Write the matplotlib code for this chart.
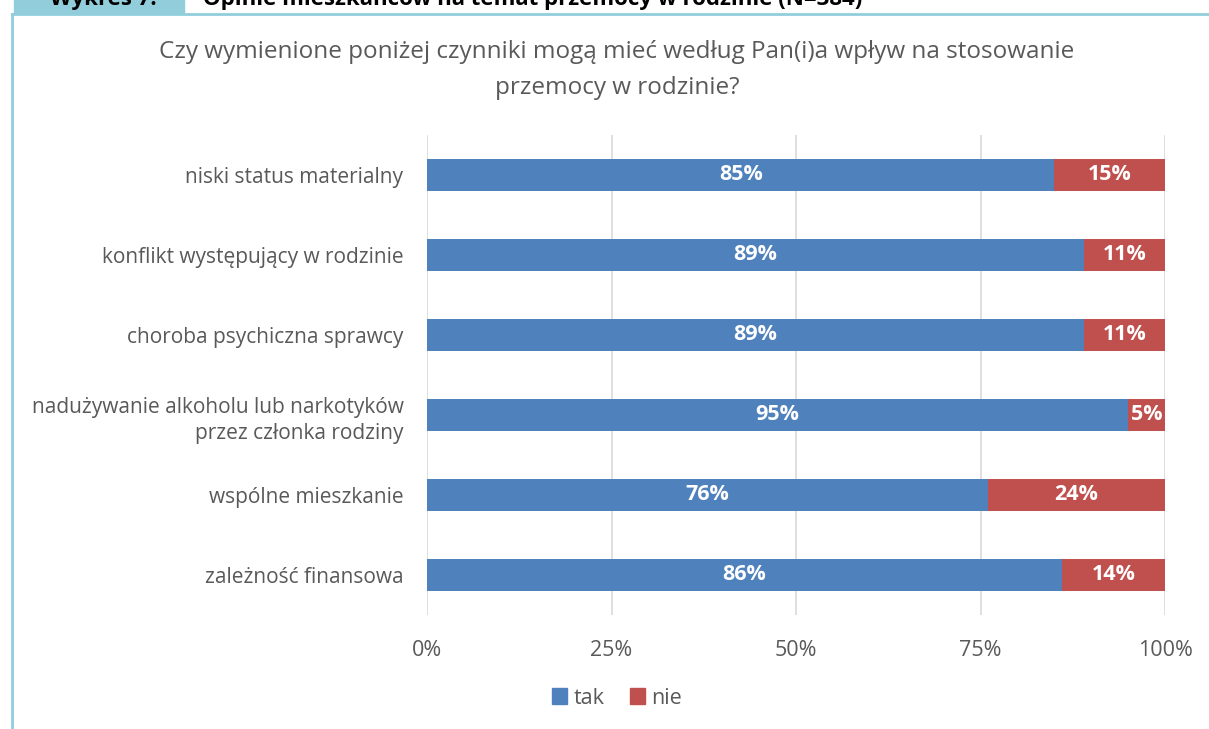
import matplotlib.pyplot as plt
import matplotlib.patches as mpatches
import numpy as np

plt.rcParams['font.family'] = ['Open Sans', 'DejaVu Sans']

categories = ["niski status materialny",
              "konflikt występujący w rodzinie",
              "choroba psychiczna sprawcy",
              "nadużywanie alkoholu lub narkotyków\nprzez członka rodziny",
              "wspólne mieszkanie",
              "zależność finansowa"]
tak = [85, 89, 89, 95, 76, 86]
nie = [15, 11, 11, 5, 24, 14]
ticks = [0, 25, 50, 75, 100]

blue = "#4F81BD"
red = "#C0504D"
grey = "#595959"
frame = "#92CDDC"

fig = plt.figure(figsize=(12.09, 7.29), dpi=100)
ax = fig.add_axes([427/1209, 1-615/729, 738/1209, 480/729])

y = np.arange(len(categories))
ax.barh(y, tak, height=0.4, color=blue, zorder=3, label="tak")
ax.barh(y, nie, left=tak, height=0.4, color=red, zorder=3, label="nie")

for i in range(len(categories)):
    ax.text(tak[i]/2, y[i], f"{tak[i]}%", ha="center", va="center",
            color="white", fontsize=15.5, fontweight="bold", zorder=4)
    ax.text(tak[i] + nie[i]/2, y[i], f"{nie[i]}%", ha="center", va="center",
            color="white", fontsize=15.5, fontweight="bold", zorder=4)

ax.set_xlim(0, 100)
ax.set_ylim(5.5, -0.5)
ax.set_xticks(ticks)
ax.set_xticklabels([f"{t}%" for t in ticks], fontsize=15.5, color=grey)
ax.set_yticks(y)
ax.set_yticklabels(categories, fontsize=15, color=grey, linespacing=1.35)
ax.tick_params(length=0)
ax.tick_params(axis="x", pad=18)
ax.tick_params(axis="y", pad=17)
ax.grid(axis="x", color="#D9D9D9", linewidth=1.2, zorder=0)
for s in ax.spines.values():
    s.set_visible(False)

fig.text(617/1209, 1-52/729, "Czy wymienione poniżej czynniki mogą mieć według Pan(i)a wpływ na stosowanie",
         ha="center", va="center", fontsize=17.5, color=grey)
fig.text(617/1209, 1-88/729, "przemocy w rodzinie?",
         ha="center", va="center", fontsize=17.5, color=grey)

handles = [mpatches.Patch(color=blue, label="tak"), mpatches.Patch(color=red, label="nie")]
fig.legend(handles=handles, loc="center", bbox_to_anchor=(617/1209, 1-698/729), ncol=2,
           frameon=False, fontsize=15.5, labelcolor=grey, handlelength=0.7, handleheight=0.7,
           handletextpad=0.3, columnspacing=1.2)

# frame and cut-off header (cut at the top edge, as in the source)
fig.add_artist(plt.Line2D([12/1209, 1], [1-14/729, 1-14/729], color=frame, linewidth=2))
fig.add_artist(plt.Line2D([12/1209, 12/1209], [0, 1-14/729], color=frame, linewidth=2))
fig.add_artist(mpatches.Rectangle((14/1209, 1-13/729), 170/1209, 13/729, color=frame,
                                  transform=fig.transFigure))
fig.text(50/1209, 1-5/729, "Wykres 7:", fontsize=16, fontweight="bold", color="black",
         va="baseline", ha="left")
fig.text(203/1209, 1-5/729, "Opinie mieszkańców na temat przemocy w rodzinie (N=384)",
         fontsize=16, fontweight="bold", color="black", va="baseline", ha="left")

fig.savefig("out.png", dpi=100)
